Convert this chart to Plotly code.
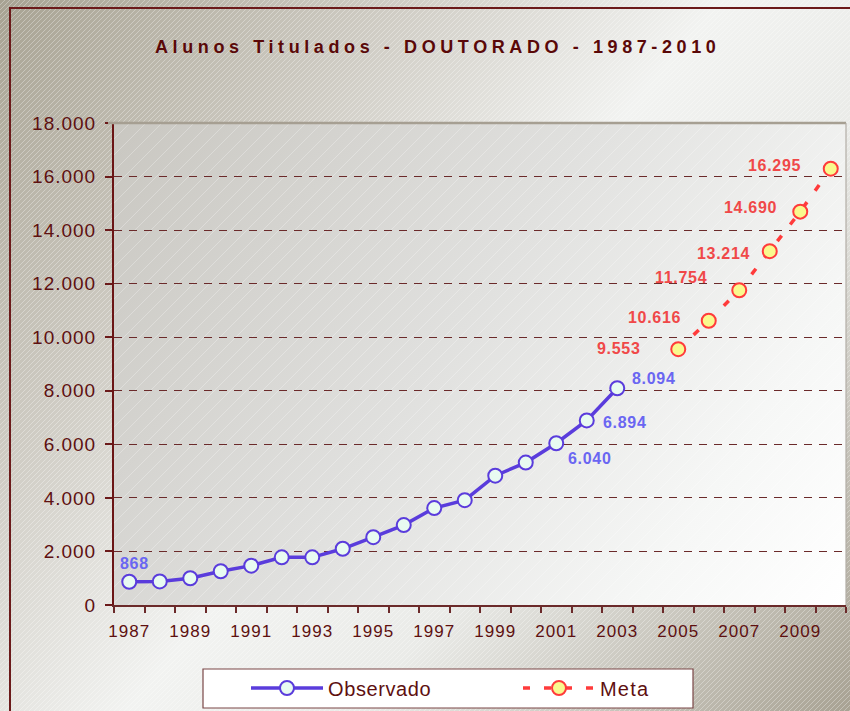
import base64
import plotly.graph_objects as go

# ---------------- data ----------------
obs_years = list(range(1987, 2004))
obs_values = [868, 880, 1000, 1260, 1470, 1780, 1780, 2100, 2533, 2985,
              3620, 3915, 4831, 5318, 6040, 6894, 8094]
obs_label_years = [1987, 2001, 2002, 2003]

meta_years = [2005, 2006, 2007, 2008, 2009, 2010]
meta_values = [9553, 10616, 11754, 13214, 14690, 16295]

y_ticks = [0, 2000, 4000, 6000, 8000, 10000, 12000, 14000, 16000, 18000]
x_tick_years = list(range(1987, 2010, 2))

title_text = "Alunos Titulados - DOUTORADO - 1987-2010"
obs_name = "Observado"
meta_name = "Meta"

# ---------------- style ----------------
W, H = 850, 711
ML, MR, MT, MB = 114, 4, 123, 106
PW, PH = W - ML - MR, H - MT - MB
FONT = "Liberation Sans, Arial, sans-serif"
DARK = "#5e1010"
OBS_LINE = "#5a3cdc"
OBS_TEXT = "#6a66f2"
META_LINE = "#ff3b3b"
META_TEXT = "#f04848"


def fmt(v):
    return f"{v:,}".replace(",", ".")


def ls(s, sp):
    return f'<span style="letter-spacing:{sp}px">{s}</span>'


def px2x(px):
    return (px - ML) / PW


def py2y(py):
    return (H - MB - py) / PH


def svg_uri(svg):
    return "data:image/svg+xml;base64," + base64.b64encode(svg.encode()).decode()


paper_svg = f'''<svg xmlns="http://www.w3.org/2000/svg" width="{W}" height="{H}" viewBox="0 0 {W} {H}" preserveAspectRatio="none">
<defs>
<linearGradient id="g" gradientUnits="userSpaceOnUse" x1="0" y1="0" x2="{W}" y2="{H}">
<stop offset="0" stop-color="#a7a292"/>
<stop offset="0.28" stop-color="#d0cdc5"/>
<stop offset="0.5" stop-color="#f2f3f1"/>
<stop offset="0.66" stop-color="#eaebe8"/>
<stop offset="1" stop-color="#a8a293"/>
</linearGradient>
<pattern id="h" width="5" height="5" patternUnits="userSpaceOnUse">
<path d="M-1,1 L1,-1 M0,5 L5,0 M4,6 L6,4" stroke="#ffffff" stroke-opacity="0.4" stroke-width="0.8"/>
</pattern>
</defs>
<rect width="{W}" height="{H}" fill="url(#g)"/>
<rect width="{W}" height="{H}" fill="url(#h)"/>
</svg>'''

plot_svg = f'''<svg xmlns="http://www.w3.org/2000/svg" width="{PW}" height="{PH}" viewBox="0 0 {PW} {PH}" preserveAspectRatio="none">
<defs>
<linearGradient id="g" gradientUnits="userSpaceOnUse" x1="0" y1="0" x2="{PW}" y2="{PH}">
<stop offset="0" stop-color="#c9c7c1"/>
<stop offset="0.45" stop-color="#e0e0de"/>
<stop offset="0.8" stop-color="#f6f7f6"/>
<stop offset="1" stop-color="#ffffff"/>
</linearGradient>
<pattern id="h" width="16" height="16" patternUnits="userSpaceOnUse">
<path d="M-2,2 L2,-2 M0,16 L16,0 M14,18 L18,14" stroke="#ffffff" stroke-opacity="0.35" stroke-width="0.8"/>
</pattern>
</defs>
<rect width="{PW}" height="{PH}" fill="url(#g)"/>
<rect width="{PW}" height="{PH}" fill="url(#h)"/>
</svg>'''

fig = go.Figure()

fig.add_trace(go.Scatter(
    x=obs_years, y=obs_values, mode="lines+markers", name=ls(obs_name, 0.6),
    line=dict(color=OBS_LINE, width=3.5),
    marker=dict(size=14, color="#e8fbf1", line=dict(color=OBS_LINE, width=2)),
    hoverinfo="x+y", legend="legend",
))
fig.add_trace(go.Scatter(
    x=meta_years, y=meta_values, mode="lines+markers", name=ls(meta_name, 1.2),
    line=dict(color=META_LINE, width=3.5, dash="7px,14px"),
    marker=dict(size=14, color="#f9f98e", line=dict(color=META_LINE, width=2)),
    hoverinfo="x+y", legend="legend2",
))

# data labels (offsets in pixels)
obs_label_shift = {1987: (5, 18), 2001: (34, -15), 2002: (38, -2), 2003: (37, 10)}
annotations = []
for yr, v in zip(obs_years, obs_values):
    if yr in obs_label_years:
        dx, dy = obs_label_shift[yr]
        annotations.append(dict(
            x=yr, y=v, xref="x", yref="y", text=ls(fmt(v), 0.7), showarrow=False,
            xshift=dx, yshift=dy, font=dict(family=FONT, size=16, color=OBS_TEXT, weight="bold"),
        ))
meta_label_shift = [(-59, 1), (-54, 3), (-58, 13), (-46, -2), (-50, 4), (-56, 3)]
for (yr, v), (dx, dy) in zip(zip(meta_years, meta_values), meta_label_shift):
    annotations.append(dict(
        x=yr, y=v, xref="x", yref="y", text=ls(fmt(v), 0.7), showarrow=False,
        xshift=dx, yshift=dy, font=dict(family=FONT, size=16, color=META_TEXT, weight="bold"),
    ))

# title
annotations.append(dict(
    x=px2x(437), y=py2y(47), xref="paper", yref="paper", text=ls(title_text, 4.6),
    showarrow=False, xanchor="center", yanchor="middle",
    font=dict(family=FONT, size=18, color="#5a0808", weight="bold"),
))

shapes = [
    # outer frame
    dict(type="rect", xref="paper", yref="paper", x0=px2x(10), x1=px2x(860),
         y0=py2y(8), y1=py2y(720), line=dict(color="#6b1a1a", width=2), layer="above"),
    # plot top border
    dict(type="line", xref="paper", yref="paper", x0=px2x(108), x1=px2x(846),
         y0=1, y1=1, line=dict(color="#a69f92", width=2.5), layer="above"),
    # plot right border
    dict(type="line", xref="paper", yref="paper", x0=1, x1=1,
         y0=0, y1=1, line=dict(color="#b3aea6", width=1.2), layer="above"),
    # legend box
    dict(type="rect", xref="paper", yref="paper", x0=px2x(203), x1=px2x(693),
         y0=py2y(669), y1=py2y(708), fillcolor="#ffffff",
         line=dict(color="#7a4646", width=1.2), layer="below"),
]

images = [
    dict(source=svg_uri(paper_svg), xref="paper", yref="paper",
         x=px2x(0), y=py2y(0), sizex=W / PW, sizey=H / PH,
         xanchor="left", yanchor="top", sizing="stretch", layer="below"),
    dict(source=svg_uri(plot_svg), xref="paper", yref="paper",
         x=0, y=1, sizex=1, sizey=1,
         xanchor="left", yanchor="top", sizing="stretch", layer="below"),
]

legend_common = dict(
    orientation="h", xref="paper", yref="paper",
    xanchor="left", yanchor="middle",
    bgcolor="rgba(0,0,0,0)", borderwidth=0,
    font=dict(family=FONT, size=20, color=DARK),
    itemwidth=72,
)

fig.update_layout(
    width=W, height=H,
    margin=dict(l=ML, r=MR, t=MT, b=MB, pad=0),
    paper_bgcolor="#ffffff",
    plot_bgcolor="rgba(0,0,0,0)",
    font=dict(family=FONT, color=DARK),
    showlegend=True,
    legend=dict(x=px2x(246), y=py2y(688), **legend_common),
    legend2=dict(x=px2x(518), y=py2y(688), **legend_common),
    annotations=annotations,
    shapes=shapes,
    images=images,
    hovermode="closest",
)

fig.update_xaxes(
    range=[1986.5, 2010.5],
    tickvals=x_tick_years,
    ticktext=[ls(str(y), 1) for y in x_tick_years],
    ticks="", showgrid=False, zeroline=False,
    showline=True, linecolor="#6b2a2a", linewidth=2,
    tickfont=dict(family=FONT, size=17, color=DARK),
    ticklabelstandoff=10,
    minor=dict(dtick=1, tick0=1986.5, ticks="outside", ticklen=6,
               tickcolor="#6b2a2a", tickwidth=1.5, showgrid=False),
)
fig.update_yaxes(
    range=[0, 18000],
    tickvals=y_ticks,
    ticktext=[ls(fmt(v), 1) for v in y_ticks],
    ticks="outside", ticklen=7, tickcolor="#6b1a1a", tickwidth=1.5,
    showgrid=True, gridcolor="#6b2a2a", gridwidth=1, griddash="8px,7px",
    zeroline=False,
    showline=True, linecolor="#6b1515", linewidth=2,
    tickfont=dict(family=FONT, size=19, color=DARK),
    ticklabelstandoff=5,
)

fig.write_html(
    "out.html",
    config={"displayModeBar": False},
    post_script="document.body.style.margin='0';document.body.style.overflow='hidden';",
)
